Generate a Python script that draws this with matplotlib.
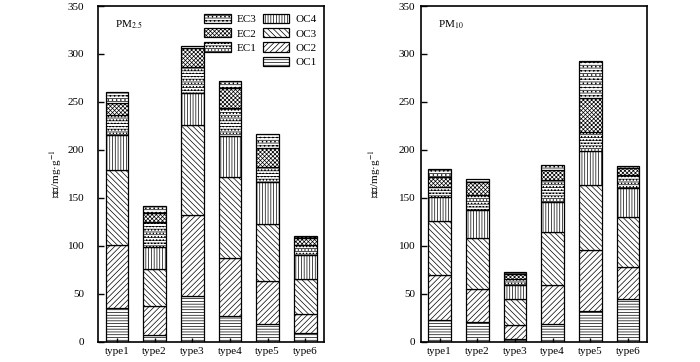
import numpy as np
import matplotlib.pyplot as plt
from matplotlib.patches import Rectangle

plt.rcParams.update({
    "font.family": ["Liberation Serif", "Noto Sans CJK SC"],
    "font.size": 8,
    "hatch.linewidth": 0.5,
    "mathtext.fontset": "stix",
})

types = ["type1", "type2", "type3", "type4", "type5", "type6"]
components = ["OC1", "OC2", "OC3", "OC4", "EC1", "EC2", "EC3"]

# cumulative tops, converted to segment heights below
pm25_tops = {
    "OC1": [35.2, 7.0, 47.4, 26.5, 18.5, 9.0],
    "OC2": [100.3, 37.3, 131.7, 87.5, 63.4, 29.0],
    "OC3": [178.7, 76.0, 226.4, 171.7, 122.3, 65.5],
    "OC4": [216.0, 98.5, 258.8, 214.5, 167.0, 90.0],
    "EC1": [236.0, 124.7, 286.0, 243.5, 182.0, 100.3],
    "EC2": [249.0, 134.5, 306.5, 264.0, 201.7, 108.4],
    "EC3": [260.0, 141.5, 308.0, 271.5, 216.5, 110.5],
}
pm10_tops = {
    "OC1": [22.6, 20.2, 2.8, 18.5, 31.7, 44.5],
    "OC2": [69.5, 54.6, 17.4, 59.1, 95.6, 77.6],
    "OC3": [125.9, 107.8, 44.5, 114.7, 163.4, 129.7],
    "OC4": [151.2, 137.3, 59.1, 146.0, 199.0, 160.0],
    "EC1": [161.6, 153.0, 65.0, 168.6, 219.0, 173.8],
    "EC2": [171.4, 166.2, 70.5, 179.0, 254.0, 180.8],
    "EC3": [179.8, 169.7, 72.5, 184.3, 292.7, 183.2],
}

hatches = {
    "OC1": "------",
    "OC2": "//////",
    "OC3": "\\\\\\\\\\\\",
    "OC4": "||||||",
    "EC1": "------.....",
    "EC2": "xxxxxxxx",
    "EC3": "------....",
}

fig = plt.figure(figsize=(7, 3.62), dpi=100)
ax1 = fig.add_axes([0.1404, 0.0561, 0.3225, 0.9273])
ax2 = fig.add_axes([0.601, 0.0561, 0.3229, 0.9273])

x = np.arange(len(types))
handles = {}
panels = [(ax1, pm25_tops, "PM$_{2.5}$", 10, -0.152),
          (ax2, pm10_tops, "PM$_{10}$", 4, -0.167)]
for ax, tops, title, ypad, ylab_x in panels:
    bottom = np.zeros(len(types))
    for c in components:
        top = np.array(tops[c])
        h = ax.bar(x, top - bottom, bottom=bottom, width=0.6, color="white",
                   edgecolor="black", linewidth=0.9, hatch=hatches[c], label=c)
        handles[c] = h
        bottom = top
    ax.set_xlim(-0.5, 5.5)
    ax.set_ylim(0, 350)
    ax.set_xticks(x)
    ax.set_xticklabels(types)
    ax.set_yticks(np.arange(0, 351, 50))
    ax.tick_params(direction="in", length=4, width=1, labelsize=8)
    ax.tick_params(axis="y", pad=ypad)
    ax.tick_params(axis="x", length=3, pad=4)
    for s in ax.spines.values():
        s.set_linewidth(1.2)
    ax.set_ylabel("含量/mg·g$^{-1}$", fontsize=8)
    ax.yaxis.set_label_coords(ylab_x, 0.5)
    ax.text(0.075, 0.945, title, transform=ax.transAxes, fontsize=8, va="center")

blank = Rectangle((0, 0), 1, 1, fill=False, edgecolor="none")
leg_handles = [handles["EC3"], handles["EC2"], handles["EC1"], blank,
               handles["OC4"], handles["OC3"], handles["OC2"], handles["OC1"]]
leg_labels = ["EC3", "EC2", "EC1", "", "OC4", "OC3", "OC2", "OC1"]
ax1.legend(leg_handles, leg_labels, ncol=2, loc="upper right",
           bbox_to_anchor=(1.0, 1.0), frameon=False, fontsize=8,
           handlelength=2.4, handleheight=0.9, labelspacing=0.35,
           columnspacing=0.6, handletextpad=0.5, borderaxespad=0.3)

fig.savefig("out.png", dpi=100)
